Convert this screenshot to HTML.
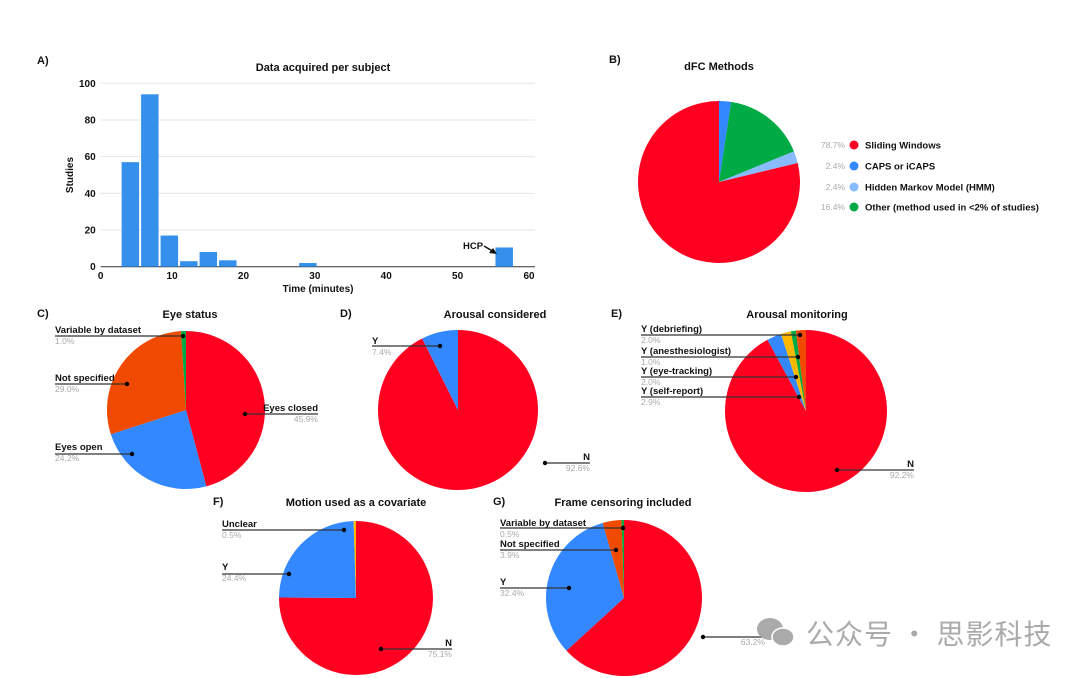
<!DOCTYPE html>
<html><head><meta charset="utf-8"><style>
html,body{margin:0;padding:0;background:#fff;}
svg{display:block;font-family:"Liberation Sans","Noto Sans CJK SC",sans-serif;}
.t{font-weight:bold;font-size:11px;fill:#111;}
.lb{font-weight:bold;font-size:9.5px;fill:#111;}
.pc{font-size:8.5px;fill:#aaa;}
.tk{font-weight:bold;font-size:10px;fill:#111;}
</style></head><body>
<svg id="fig" width="1080" height="678" viewBox="0 0 1080 678">
<g id="histo"></g>
<g id="pies"></g>
<g>
<ellipse cx="770" cy="629" rx="13" ry="11" fill="#aaa"/>
<ellipse cx="783" cy="637" rx="11" ry="9" fill="#aaa" stroke="#fff" stroke-width="1.5"/>
<text x="806" y="644" font-size="28" letter-spacing="1" fill="#aaa" style="font-family:'Noto Sans CJK SC',sans-serif">公众号 · 思影科技</text>
</g>
</svg>
<script>
// ---- Panel A data ----
const binStarts=[2.93,5.66,8.39,11.12,13.85,16.58,27.8,55.3];
const binCounts=[57,94,17,3,8,3.5,2,10.5];
const binWidth=2.45;
const yTicks=[0,20,40,60,80,100];
const xTicks=[0,10,20,30,40,50,60];
// ---- Pie data ----
const bVals=[2.4,16.4,2.4,78.7];
const bLabels=["CAPS or iCAPS","Other (method used in <2% of studies)","Hidden Markov Model (HMM)","Sliding Windows"];
const cVals=[45.9,24.2,29.0,1.0];
const cLabels=["Eyes closed","Eyes open","Not specified","Variable by dataset"];
const dVals=[92.6,7.4];
const dLabels=["N","Y"];
const eVals=[92.2,2.9,2.0,1.0,2.0];
const eLabels=["N","Y (self-report)","Y (eye-tracking)","Y (anesthesiologist)","Y (debriefing)"];
const fVals=[75.1,24.4,0.5];
const fLabels=["N","Y","Unclear"];
const gVals=[63.2,32.4,3.9,0.5];
const gLabels=["N","Y","Not specified","Variable by dataset"];

const NS="http://www.w3.org/2000/svg";
function mk(parent,tag,attrs,txt){const e=document.createElementNS(NS,tag);for(const k in attrs)e.setAttribute(k,attrs[k]);if(txt!==undefined)e.textContent=txt;parent.appendChild(e);return e;}

// ---- Histogram ----
const H=document.getElementById('histo');
const x0=100.7,x1=529,y0=266.7,y1=83.3;
const xs=v=>x0+(v/60)*(x1-x0);
const ys=v=>y0-(v/100)*(y0-y1);
let t=mk(H,'text',{x:37,y:64,class:'t'},'A)');


t=mk(H,'text',{x:323,y:71,class:'t','text-anchor':'middle'},'Data acquired per subject');


yTicks.forEach(v=>{
 const g=mk(H,'line',{x1:x0,x2:535,y1:ys(v),y2:ys(v),stroke:v===0?'#333':'#e6e6e6','stroke-width':1});
 
 
 const l=mk(H,'text',{x:x0-5,y:ys(v)+3.5,class:'tk','text-anchor':'end'},v);
 
 
});
xTicks.forEach(v=>{
 const l=mk(H,'text',{x:xs(v),y:279,class:'tk','text-anchor':'middle'},v);
 
 
});
t=mk(H,'text',{x:318,y:292,class:'tk','text-anchor':'middle'},'Time (minutes)');


t=mk(H,'text',{x:73,y:175,class:'tk','text-anchor':'middle',transform:'rotate(-90 73 175)'},'Studies');


binStarts.forEach((s,i)=>{
 const r=mk(H,'rect',{x:xs(s),y:ys(binCounts[i]),width:xs(binWidth)-x0,height:y0-ys(binCounts[i]),fill:'#3590ec'});
 
 
});
t=mk(H,'text',{x:463,y:249,class:'lb'},'HCP');


mk(H,'line',{x1:484,y1:246,x2:494,y2:252,stroke:'#111','stroke-width':1.5});
mk(H,'path',{d:'M497,254 L489,253 L493,248 Z',fill:'#111'});

// ---- Pies ----
const P=document.getElementById('pies');
function pie(name,cx,cy,r,vals,colors){
 const g=mk(P,'g',{});
 
 
 const tot=vals.reduce((a,b)=>a+b,0);let a=0;
 vals.forEach((v,i)=>{
  const a1=a+v/tot*2*Math.PI;
  const p1=[cx+r*Math.sin(a),cy-r*Math.cos(a)],p2=[cx+r*Math.sin(a1),cy-r*Math.cos(a1)];
  const large=(a1-a)>Math.PI?1:0;
  const s=mk(g,'path',{d:`M${cx},${cy} L${p1[0]},${p1[1]} A${r},${r} 0 ${large} 1 ${p2[0]},${p2[1]} Z`,fill:colors[i]});
  
  
  a=a1;
 });
 return g;
}
function lab(text,pct,tx,ty,dx,dy,right){
 const g=mk(P,'g',{});
 
 
 mk(g,'text',{x:tx,y:ty,class:'lb','text-anchor':right?'end':'start'},text);
 mk(g,'text',{x:tx,y:ty+11,class:'pc','text-anchor':right?'end':'start'},pct.toFixed(1)+'%');
 mk(g,'line',{x1:tx,y1:dy,x2:dx,y2:dy,stroke:'#333','stroke-width':1.2});
 mk(g,'circle',{cx:dx,cy:dy,r:2.2,fill:'#000'});
}
function title(letter,lx,ly,txt,tx,tyOff){
 let e=mk(P,'text',{x:lx,y:ly,class:'t'},letter);
 
 
 e=mk(P,'text',{x:tx,y:ly+(tyOff||1),class:'t','text-anchor':'middle'},txt);
 
 
}
const RED='#ff0021',BLUE='#3388ff',ORG='#f04a00',GRN='#00aa44',LBL='#88bbff',YEL='#ffb800';
// B
title('B)',609,63,'dFC Methods',719,7);
pie('pie-dfc-methods',719,182,81,bVals,[BLUE,GRN,LBL,RED]);
const legOrder=[3,0,2,1],legCol=[RED,BLUE,LBL,GRN],legY=[145,166,187,207];
legOrder.forEach((k,i)=>{
 const g=mk(P,'g',{});
 
 
 mk(g,'text',{x:845,y:legY[i]+3,class:'pc','text-anchor':'end'},bVals[k].toFixed(1)+'%');
 mk(g,'circle',{cx:854,cy:legY[i],r:4.5,fill:legCol[i]});
 mk(g,'text',{x:865,y:legY[i]+3.5,class:'lb'},bLabels[k]);
});
// C
title('C)',37,317,'Eye status',190);
pie('pie-eye-status',186,410,79,cVals,[RED,BLUE,ORG,GRN]);
lab(cLabels[3],cVals[3],55,333,183,336,false);
lab(cLabels[2],cVals[2],55,381,127,384,false);
lab(cLabels[1],cVals[1],55,450,132,454,false);
lab(cLabels[0],cVals[0],318,411,245,414,true);
// D
title('D)',340,317,'Arousal considered',495);
pie('pie-arousal-considered',458,410,80,dVals,[RED,BLUE]);
lab(dLabels[1],dVals[1],372,344,440,346,false);
lab(dLabels[0],dVals[0],590,460,545,463,true);
// E
title('E)',611,317,'Arousal monitoring',797);
pie('pie-arousal-monitoring',806,411,81,eVals,[RED,BLUE,YEL,GRN,ORG]);
lab(eLabels[4],eVals[4],641,332,800,335,false);
lab(eLabels[3],eVals[3],641,354,798,357,false);
lab(eLabels[2],eVals[2],641,374,796,377,false);
lab(eLabels[1],eVals[1],641,394,799,397,false);
lab(eLabels[0],eVals[0],914,467,837,470,true);
// F
title('F)',213,505,'Motion used as a covariate',356);
pie('pie-motion-covariate',356,598,77,fVals,[RED,BLUE,YEL]);
lab(fLabels[2],fVals[2],222,527,344,530,false);
lab(fLabels[1],fVals[1],222,570,289,574,false);
lab(fLabels[0],fVals[0],452,646,381,649,true);
// G
title('G)',493,505,'Frame censoring included',623);
pie('pie-frame-censoring',624,598,78,gVals,[RED,BLUE,ORG,GRN]);
lab(gLabels[3],gVals[3],500,526,623,528,false);
lab(gLabels[2],gVals[2],500,547,616,550,false);
lab(gLabels[1],gVals[1],500,585,569,588,false);
lab(gLabels[0],gVals[0],765,634,703,637,true);
</script>
</body></html>
